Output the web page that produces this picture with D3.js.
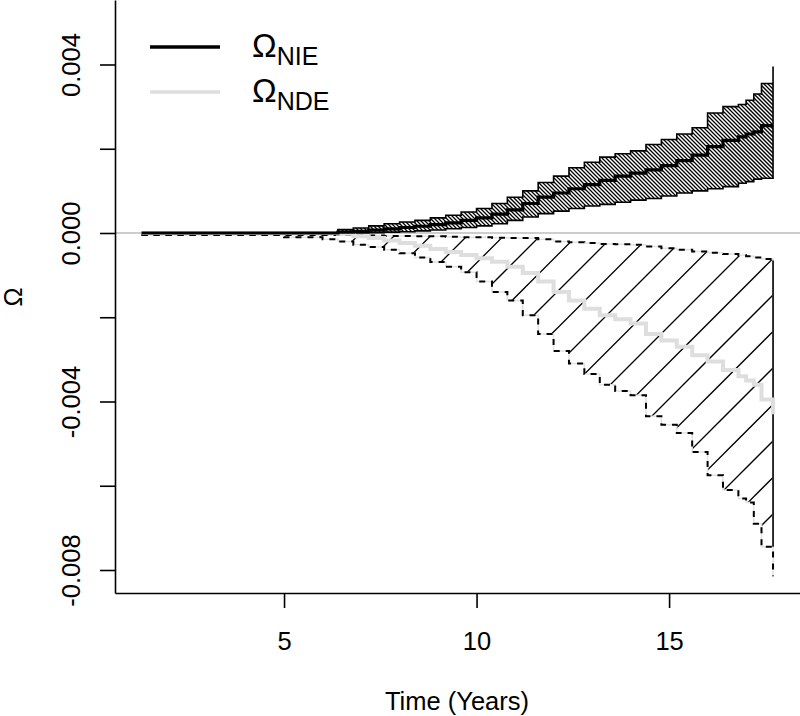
<!DOCTYPE html>
<html lang="en">
  <head>
    <meta charset="UTF-8" />
    <title>Omega NIE / NDE over time</title>
    <script src="https://d3js.org/d3.v7.min.js"></script>
    <style>
      body { margin: 0; background: #fff; }
      text { font-family: "Liberation Sans", Arial, sans-serif; fill: #000; }
    </style>
  </head>
  <body>
    <svg width="800" height="716"></svg>

    <script>
      // time points (years) where the step curves change
      const times = [1.3, 5.0, 6.0, 6.4, 6.8, 7.2, 7.6, 8.0, 8.4, 8.8, 9.2, 9.6, 10.0, 10.4,
        10.8, 11.2, 11.6, 12.0, 12.4, 12.8, 13.2, 13.6, 14.0, 14.4, 14.8, 15.2, 15.6, 16.0,
        16.4, 16.8, 17.0, 17.2, 17.4, 17.7];

      // values in units of 1e-3
      const nieEst = [0, 0, 0, 0.02, 0.04, 0.07, 0.10, 0.13, 0.16, 0.20, 0.24, 0.30, 0.36, 0.45,
        0.55, 0.70, 0.85, 0.95, 1.05, 1.15, 1.25, 1.35, 1.42, 1.50, 1.60, 1.72, 1.85, 2.05,
        2.20, 2.28, 2.35, 2.40, 2.55, 2.55];
      const nieHi = [0, 0, 0.03, 0.08, 0.12, 0.17, 0.22, 0.26, 0.30, 0.36, 0.42, 0.50, 0.58, 0.70,
        0.85, 1.00, 1.20, 1.35, 1.55, 1.68, 1.80, 1.88, 1.95, 2.10, 2.22, 2.35, 2.50, 2.85,
        3.00, 3.05, 3.15, 3.30, 3.55, 3.95];
      const nieLo = [0, 0, 0, 0, 0, 0.01, 0.02, 0.03, 0.05, 0.07, 0.10, 0.13, 0.17, 0.22,
        0.30, 0.38, 0.46, 0.52, 0.58, 0.64, 0.68, 0.73, 0.78, 0.82, 0.88, 0.95, 1.00, 1.05,
        1.10, 1.18, 1.22, 1.28, 1.30, 1.33];

      const ndeEst = [0, 0, 0, -0.02, -0.08, -0.12, -0.18, -0.24, -0.30, -0.38, -0.45, -0.52, -0.60, -0.68,
        -0.80, -0.95, -1.15, -1.40, -1.60, -1.80, -1.95, -2.05, -2.15, -2.40, -2.55, -2.70, -2.90, -3.05,
        -3.25, -3.40, -3.50, -3.60, -3.95, -4.30];
      const ndeHi = [-0.05, -0.05, -0.05, -0.05, -0.06, -0.06, -0.07, -0.07, -0.08, -0.08, -0.09, -0.10, -0.10, -0.11,
        -0.12, -0.12, -0.15, -0.20, -0.22, -0.24, -0.26, -0.27, -0.28, -0.32, -0.36, -0.40, -0.44, -0.47,
        -0.50, -0.53, -0.55, -0.58, -0.62, -0.65];
      const ndeLo = [-0.05, -0.10, -0.15, -0.20, -0.28, -0.33, -0.40, -0.48, -0.58, -0.69, -0.80, -0.93, -1.15, -1.40,
        -1.60, -1.95, -2.40, -2.80, -3.10, -3.35, -3.60, -3.75, -3.85, -4.35, -4.55, -4.75, -5.20, -5.75,
        -6.10, -6.30, -6.40, -6.90, -7.45, -8.15];

      const xTicks = [5, 10, 15];
      const yTicks = [0.004, 0.002, 0, -0.002, -0.004, -0.006, -0.008];
      const yLabelled = [0.004, 0, -0.004, -0.008];

      const svg = d3.select("svg");

      const x = d3.scaleLinear().domain([0.61, 18.4]).range([115, 800]);
      const y = d3.scaleLinear().domain([0.005531, -0.008546]).range([0, 593]);

      const v = (d) => d / 1000;

      // step-after vertex list [[t, value], ...]
      function stepPts(ts, vs) {
        const pts = [[ts[0], vs[0]]];
        for (let i = 1; i < ts.length; i++) {
          pts.push([ts[i], vs[i - 1]]);
          pts.push([ts[i], vs[i]]);
        }
        return pts;
      }

      const stepLine = d3.line()
        .x((d, i) => x(times[i]))
        .y((d) => y(v(d)))
        .curve(d3.curveStepAfter);

      const polyLine = d3.line()
        .x((d) => x(d[0]))
        .y((d) => y(v(d[1])));

      const defs = svg.append("defs");

      // ---- NDE band (wide "/" hatching) ----
      const ndePoly = stepPts(times, ndeHi).concat(stepPts(times, ndeLo).reverse());
      defs.append("clipPath").attr("id", "ndeClip")
        .append("path").attr("d", polyLine(ndePoly) + "Z");

      const ndeHatch = svg.append("g").attr("clip-path", "url(#ndeClip)");
      for (let c = 1068 - 36.5 * 30; c < 1700; c += 36.5) {
        ndeHatch.append("line")
          .attr("x1", c - 700).attr("y1", 700)
          .attr("x2", c).attr("y2", 0)
          .attr("stroke", "#000").attr("stroke-width", 1.3);
      }
      svg.append("path")
        .attr("d", polyLine(ndePoly) + "Z")
        .attr("fill", "none").attr("stroke", "#e2e2e2").attr("stroke-width", 1.5);

      // ---- NIE band (dense "\" hatching) ----
      const niePoly = stepPts(times, nieHi).concat(stepPts(times, nieLo).reverse());
      defs.append("clipPath").attr("id", "nieClip")
        .append("path").attr("d", polyLine(niePoly) + "Z");

      const nieHatch = svg.append("g").attr("clip-path", "url(#nieClip)");
      for (let c = -300; c < 800; c += 4) {
        nieHatch.append("line")
          .attr("x1", c).attr("y1", 0)
          .attr("x2", c + 400).attr("y2", 400)
          .attr("stroke", "#000").attr("stroke-width", 1.3);
      }

      // zero reference line
      svg.append("line")
        .attr("x1", 115).attr("x2", 800)
        .attr("y1", y(0)).attr("y2", y(0))
        .attr("stroke", "#bdbdbd").attr("stroke-width", 1.5);

      svg.append("path")
        .attr("d", polyLine(niePoly) + "Z")
        .attr("fill", "none").attr("stroke", "#000").attr("stroke-width", 1.6);

      // NDE CI lines (dashed) and right edge
      const last = times.length - 1;
      svg.append("line")
        .attr("x1", x(times[last])).attr("x2", x(times[last]))
        .attr("y1", y(v(ndeHi[last]))).attr("y2", y(v(ndeLo[last - 1])))
        .attr("stroke", "#000").attr("stroke-width", 1.6);

      [ndeHi, ndeLo].forEach((s) => {
        svg.append("path")
          .datum(s)
          .attr("d", stepLine)
          .attr("fill", "none")
          .attr("stroke", "#000")
          .attr("stroke-width", 2)
          .attr("stroke-dasharray", "6,6");
      });

      // estimates
      svg.append("path")
        .datum(ndeEst)
        .attr("d", stepLine)
        .attr("fill", "none").attr("stroke", "#dedede").attr("stroke-width", 4);

      svg.append("path")
        .datum(nieEst)
        .attr("d", stepLine)
        .attr("fill", "none").attr("stroke", "#000").attr("stroke-width", 3.2);

      // ---- axes ----
      const yAxis = svg.append("g")
        .attr("transform", "translate(115,0)")
        .call(d3.axisLeft(y).tickValues(yTicks).tickSize(15).tickSizeOuter(0)
          .tickFormat((d) => (yLabelled.includes(d) ? d3.format(".3f")(d).replace("−", "-") : "")));
      yAxis.select(".domain").attr("stroke-width", 1.6);
      yAxis.selectAll(".tick line").attr("stroke-width", 1.6);
      yAxis.selectAll(".tick text")
        .attr("x", 0).attr("dy", 0)
        .attr("text-anchor", "middle")
        .attr("transform", "translate(-35,0) rotate(-90)")
        .style("font-size", "25.5px");

      const xAxis = svg.append("g")
        .attr("transform", "translate(0,593)")
        .call(d3.axisBottom(x).tickValues(xTicks).tickSize(15).tickSizeOuter(0).tickFormat(d3.format("d")));
      xAxis.select(".domain").attr("stroke-width", 1.6);
      xAxis.selectAll(".tick line").attr("stroke-width", 1.6);
      xAxis.selectAll(".tick text").attr("y", 57).attr("dy", 0).style("font-size", "25.5px");

      svg.append("text")
        .attr("x", 457).attr("y", 710)
        .attr("text-anchor", "middle")
        .style("font-size", "25.5px")
        .text("Time (Years)");

      svg.append("text")
        .attr("transform", "translate(22,297) rotate(-90)")
        .attr("text-anchor", "middle")
        .style("font-size", "25.5px")
        .text("Ω");

      // ---- legend ----
      const legend = [
        { sub: "NIE", color: "#000", y: 47 },
        { sub: "NDE", color: "#dedede", y: 92 },
      ];
      legend.forEach((d) => {
        svg.append("line")
          .attr("x1", 150).attr("x2", 220)
          .attr("y1", d.y).attr("y2", d.y)
          .attr("stroke", d.color).attr("stroke-width", 3.5);
        const t = svg.append("text")
          .attr("x", 252).attr("y", d.y + 10)
          .style("font-size", "33px");
        t.append("tspan").text("Ω");
        t.append("tspan").attr("dy", 8).style("font-size", "25px").text(d.sub);
      });
    </script>
  </body>
</html>
